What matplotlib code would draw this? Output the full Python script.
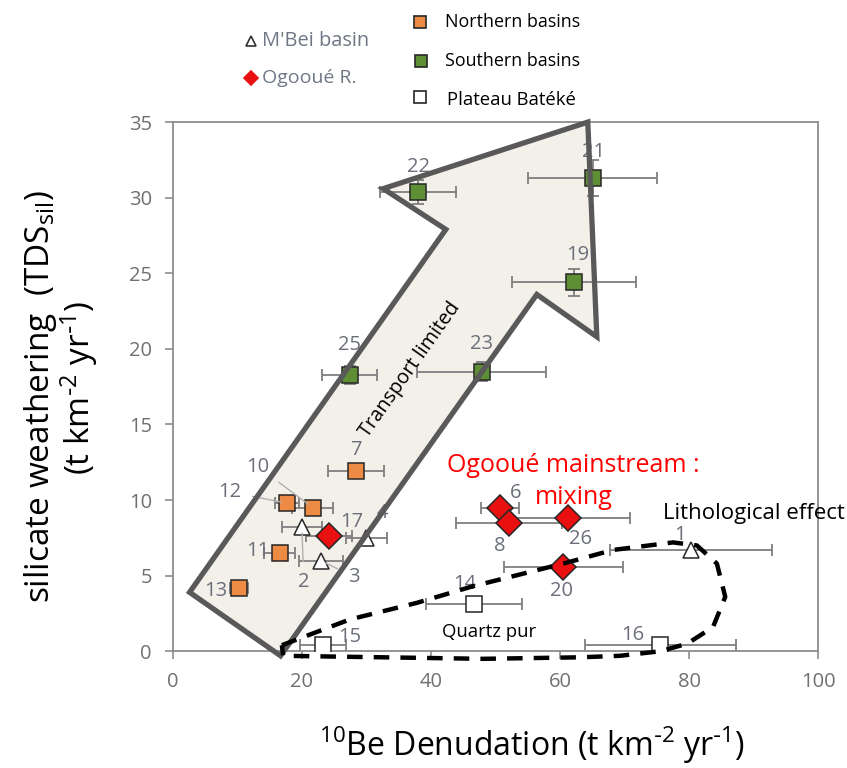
import numpy as np
import matplotlib
matplotlib.use('Agg')
import matplotlib.pyplot as plt
from matplotlib.lines import Line2D
from matplotlib.patches import Polygon

plt.rcParams['font.family'] = ['Open Sans', 'DejaVu Sans']
plt.rcParams['mathtext.default'] = 'regular'

# --- donnees ---
north_id = ['7', '10', '12', '11', '13']
north_x = [28.4, 21.7, 17.7, 16.6, 10.2]
north_y = [11.9, 9.5, 9.8, 6.5, 4.2]
north_xerr = [4.3, 3.2, 1.9, 2.4, 1.4]

south_id = ['22', '21', '19', '23', '25']
south_x = [38.0, 65.1, 62.2, 47.9, 27.4]
south_y = [30.4, 31.3, 24.4, 18.5, 18.3]
south_xerr = [5.9, 10.0, 9.6, 10.0, 4.3]
south_yerr = [0.8, 1.2, 0.9, 0.6, 0.6]

bateke_id = ['14', '15', '16']
bateke_x = [46.7, 23.3, 75.5]
bateke_y = [3.1, 0.4, 0.4]
bateke_xerr = [7.4, 3.6, 11.7]

mbei_id = ['1', '2', '3', '4']
mbei_x = [80.3, 20.0, 22.9, 30.0]
mbei_y = [6.7, 8.2, 6.0, 7.5]
mbei_xerr = [12.6, 3.1, 3.4, 3.2]

ogo_id = ['17', '6', '8', '26', '20']
ogo_x = [24.2, 50.7, 52.1, 61.2, 60.5]
ogo_y = [7.6, 9.5, 8.5, 8.8, 5.6]
ogo_xerr = [3.6, 3.0, 8.2, 9.7, 9.2]

# fleche "Transport limited" et boucle "Lithological effect"
arrow_x = [16.7, 2.6, 42.3, 32.6, 64.3, 65.7, 56.4]
arrow_y = [-0.3, 3.9, 27.9, 30.6, 35.0, 20.8, 23.6]
loop_x = [16.9, 27.4, 37.8, 46.5, 60.5, 68.2, 77.5, 81.2, 84.3, 85.6, 83.7,
          79.7, 75.5, 69.3, 63.1, 48.1, 32.6, 17.1, 16.9]
loop_y = [0.4, 2.1, 3.2, 4.3, 5.8, 6.7, 7.2, 7.0, 5.8, 3.6, 1.6,
          0.5, 0.0, -0.3, -0.4, -0.5, -0.4, -0.3, 0.4]

# offsets des etiquettes (pixels)
offsets = {'7': (0, 21), '10': (-55, 41), '12': (-57, 11), '11': (-22, 2),
           '13': (-23, -3), '2': (2, -55), '3': (33, -16), '4': (16, 25),
           '17': (23, 14), '22': (0, 25), '21': (1, 26), '19': (3, 27),
           '23': (0, 28), '25': (0, 30), '14': (-9, 20), '15': (27, 8),
           '16': (-27, 10), '1': (-11, 15), '6': (16, 15), '8': (-9, -23),
           '26': (13, -21), '20': (-2, -24)}
leaders = ['10', '12', '2', '3']

gris = '#7f7f7f'
lab_col = '#6b6f7a'

fig = plt.figure(figsize=(8.47, 7.68), dpi=100)
ax = fig.add_axes([0.204, 0.152, 0.762, 0.689])

def serie(x, y, xerr, yerr, marker, fc, ms, ids):
    ax.errorbar(x, y, xerr=xerr, yerr=yerr, fmt='none', ecolor=gris,
                elinewidth=1.3, capsize=4, capthick=1.3, zorder=2)
    ax.plot(x, y, ls='none', marker=marker, mfc=fc, mec='#262626', mew=1.1,
            ms=ms, zorder=3)
    for i, xi, yi in zip(ids, x, y):
        dx, dy = offsets[i]
        if i in leaders:
            ax.annotate(i, (xi, yi), xytext=(dx, dy), textcoords='offset pixels',
                        ha='center', va='center', fontsize=14.5, color=lab_col,
                        arrowprops=dict(arrowstyle='-', color='#b0b0b0', lw=1,
                                        shrinkA=6, shrinkB=4), zorder=4)
        else:
            ax.annotate(i, (xi, yi), xytext=(dx, dy), textcoords='offset pixels',
                        ha='center', va='center', fontsize=14.5, color=lab_col,
                        zorder=4)

serie(north_x, north_y, north_xerr, None, 's', '#ED8B45', 11, north_id)
serie(south_x, south_y, south_xerr, south_yerr, 's', '#5E8F35', 11, south_id)
serie(bateke_x, bateke_y, bateke_xerr, None, 's', 'white', 11, bateke_id)
serie(mbei_x, mbei_y, mbei_xerr, None, '^', 'white', 12, mbei_id)
serie(ogo_x, ogo_y, ogo_xerr, None, 'D', '#E81010', 13.5, ogo_id)

# fond de la fleche sous les points, contour par-dessus
pts = np.column_stack([arrow_x, arrow_y])
ax.add_patch(Polygon(pts, closed=True, facecolor='#f2f0e9', edgecolor='none',
                     clip_on=False, zorder=1))
ax.add_patch(Polygon(pts, closed=True, fill=False, edgecolor='#595959',
                     lw=3.8, joinstyle='miter', clip_on=False, zorder=5))
ax.plot(loop_x, loop_y, color='black', lw=3.2, ls=(0, (3.5, 2.5)),
        clip_on=False, zorder=6)

ax.text(36.7, 18.6, 'Transport limited', rotation=54.8, ha='center',
        va='center', fontsize=14.3, zorder=7)
ax.text(62.0, 12.3, 'Ogooué mainstream :', color='red', ha='center',
        va='center', fontsize=18)
ax.text(62.2, 10.2, 'mixing', color='red', ha='center', va='center', fontsize=18)
ax.text(76.0, 9.1, 'Lithological effect', ha='left', va='center', fontsize=16)
ax.text(41.7, 1.3, 'Quartz pur', ha='left', va='center', fontsize=13.3)

ax.set_xlim(0, 100)
ax.set_ylim(0, 35)
ax.set_xticks(np.arange(0, 101, 20))
ax.set_yticks(np.arange(0, 36, 5))
for s in ax.spines.values():
    s.set_color('#8c8c8c')
    s.set_linewidth(1.3)
ax.tick_params(direction='out', length=6, width=1.2, color='#8c8c8c',
               labelsize=14.5, labelcolor='#707070', pad=9)

fig.text(0.048, 0.484, 'silicate weathering  (TDS$_{sil}$)', rotation=90,
         ha='center', va='center', fontsize=24)
fig.text(0.093, 0.495, r'(t km$^{\text{-}2}$ yr$^{\text{-}1}$)', rotation=90,
         ha='center', va='center', fontsize=24)
fig.text(0.628, 0.030, r'$^{10}$Be Denudation (t km$^{\text{-}2}$ yr$^{\text{-}1}$)',
         ha='center', va='center', fontsize=23)

# legende faite a la main
leg = [(0.296, 0.947, '^', 'white', '#333333', 7),
       (0.296, 0.898, 'D', '#E81010', '#E81010', 7),
       (0.496, 0.971, 's', '#ED8B45', '#262626', 8),
       (0.497, 0.921, 's', '#5E8F35', '#262626', 8),
       (0.496, 0.874, 's', 'white', '#262626', 8)]
for lx, ly, m, fc, ec, ms in leg:
    fig.add_artist(Line2D([lx], [ly], marker=m, mfc=fc, mec=ec, mew=1.2,
                          ms=ms, transform=fig.transFigure))
fig.text(0.309, 0.947, "M'Bei basin", color='#6f7785', fontsize=14.4, va='center')
fig.text(0.309, 0.898, 'Ogooué R.', color='#6f7785', fontsize=14, va='center')
fig.text(0.525, 0.971, 'Northern basins', fontsize=12.9, va='center')
fig.text(0.525, 0.921, 'Southern basins', fontsize=12.9, va='center')
fig.text(0.528, 0.870, 'Plateau Batéké', fontsize=13.3, va='center')

fig.savefig('out.png', dpi=100)
